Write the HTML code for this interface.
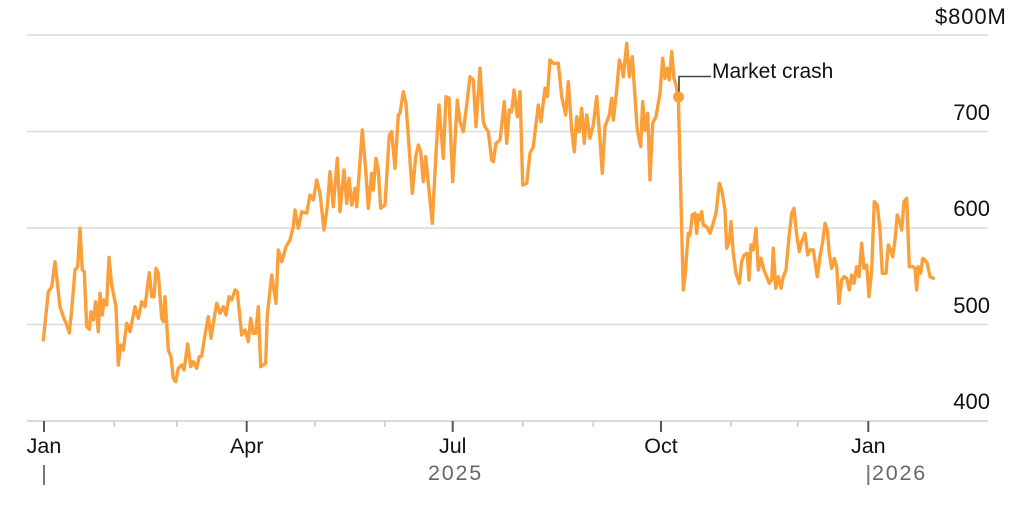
<!DOCTYPE html>
<html>
<head>
<meta charset="utf-8">
<style>
  html,body{margin:0;padding:0;background:#fff;}
  svg{display:block;}
  text{font-family:"Liberation Sans",Arial,sans-serif;}
</style>
</head>
<body>
<svg width="1014" height="509" viewBox="0 0 1014 509" xmlns="http://www.w3.org/2000/svg">
  <!-- gridlines -->
  <g stroke="#dadada" stroke-width="1.6">
    <line x1="27" y1="35" x2="988" y2="35"/>
    <line x1="27" y1="131.5" x2="988" y2="131.5"/>
    <line x1="27" y1="228" x2="988" y2="228"/>
    <line x1="27" y1="324.5" x2="988" y2="324.5"/>
  </g>
  <!-- axis line -->
  <line x1="27" y1="421" x2="988" y2="421" stroke="#dadada" stroke-width="2"/>
  <!-- minor ticks -->
  <g stroke="#c8c8c8" stroke-width="1.5">
    <line x1="114.3" y1="421" x2="114.3" y2="427"/>
    <line x1="176.7" y1="421" x2="176.7" y2="427"/>
    <line x1="315" y1="421" x2="315" y2="427"/>
    <line x1="385" y1="421" x2="385" y2="427"/>
    <line x1="522.7" y1="421" x2="522.7" y2="427"/>
    <line x1="593.3" y1="421" x2="593.3" y2="427"/>
    <line x1="731" y1="421" x2="731" y2="427"/>
    <line x1="797.7" y1="421" x2="797.7" y2="427"/>
  </g>
  <!-- major ticks -->
  <g stroke="#555" stroke-width="2">
    <line x1="44" y1="421" x2="44" y2="432"/>
    <line x1="246.7" y1="421" x2="246.7" y2="432"/>
    <line x1="452.7" y1="421" x2="452.7" y2="432"/>
    <line x1="661" y1="421" x2="661" y2="432"/>
    <line x1="868.3" y1="421" x2="868.3" y2="432"/>
  </g>
  <!-- year ticks -->
  <g stroke="#777" stroke-width="2">
    <line x1="44" y1="465" x2="44" y2="485"/>
    <line x1="868.3" y1="465" x2="868.3" y2="485"/>
  </g>
  <!-- month labels -->
  <g font-size="21.5" fill="#111" text-anchor="middle">
    <text x="44" y="453">Jan</text>
    <text x="246.7" y="453">Apr</text>
    <text x="452.7" y="453">Jul</text>
    <text x="661" y="453">Oct</text>
    <text x="868.3" y="453">Jan</text>
  </g>
  <g font-size="21.5" fill="#666" letter-spacing="1.8">
    <text x="428" y="480">2025</text>
    <text x="872" y="480">2026</text>
  </g>
  <!-- y labels -->
  <g font-size="22" fill="#111" text-anchor="end">
    <text x="990" y="120">700</text>
    <text x="990" y="216">600</text>
    <text x="990" y="313">500</text>
    <text x="990" y="409">400</text>
  </g>
  <text x="935" y="24" font-size="22" fill="#111" letter-spacing="0.9">$800M</text>

  <!-- series -->
  <polyline fill="none" stroke="#fb9f3a" stroke-width="3.4" stroke-linejoin="round" stroke-linecap="round"
    points="43.3,340 48.3,291.7 51.7,287 55,261.7 60,306.7 63.3,316.7 66,323 69.3,333 71.7,310 75,270 77.7,266.7 80,228.3 82.3,270 84.3,271.7 86.7,326.7 89.3,329.3 91,311.7 93.3,320 95.7,301.7 98.3,331.7 100,293.3 102.3,315 104,300 106.7,305 109,257.3 111.7,285 116,306.7 118.3,365 120.7,345 123.3,350 126.7,323.3 130,331.7 135,306.7 138.3,318.3 141.7,301.7 145,306.7 149.3,272.7 151.7,296.7 154,296.7 156,268.3 158.3,273.3 161.7,318.3 163.3,321.7 165,296.7 168.3,350 171,356.7 173.3,378.3 175.7,381.7 178.3,368.3 181.7,365 184,370 187.7,344 190.7,366.7 193.3,361.7 196.7,368.3 199.3,356.7 201.7,356 205,335 208.3,316.7 211,338.3 213.3,323.3 216.7,303.3 220,313.3 223.3,306.7 226,315 229,296.7 231.7,300 235,290 237.3,291.7 241.7,335 245,330 248.3,341.7 250.7,318.3 253.3,333.3 255.7,333.3 258.3,306.7 260.7,366.7 263.3,365 265.7,363.3 267.3,315 271.7,275 276,303.3 278.3,250 281.7,261.7 286,246.7 290,240 293.3,226.7 295,210 298.3,228.3 301.7,211.7 306.7,213.3 310,195 313.3,200 316.7,180 320,193.3 324,230 327.3,206.7 330,171.7 333.3,206.7 337.3,158.3 340,211.7 344,170 346.7,203.3 349,178.3 351.7,205 355,188.3 356.7,206.7 362.3,130 365.7,170 368.3,208.3 371.7,173.3 373.3,190 376,158.3 378.3,170 380.7,208.3 385,205 389.3,135 391.7,131.7 395,168.3 398.3,115 400,113.3 403.3,91.7 406,103.3 412.3,193.3 415.7,156.7 418.3,145 420.7,151.7 423.3,181.7 425.7,156.7 432.3,223.3 436,153.3 439,105 443.3,158.3 446,96.7 449,98.3 452.7,181.7 457.3,100 460,121.7 463.3,131.7 466.7,105 470,76.7 473.3,80 476,126.7 480,68.3 483.3,121.7 485,126.7 488.3,131.7 491.7,160 493.3,161.7 496,143.3 500,140 504.3,101.7 506.7,143.3 509.3,110 511.7,111.7 514,90 517.3,116.7 520,91.7 522.7,185 526.7,183.3 530,153.3 533.3,146.7 538.3,105 541,121.7 545,88.3 547.3,96.7 550,60 553.3,63.3 558.3,63.3 561.7,96.7 565.7,115 568.3,81.7 571.7,130 574.3,151.7 576.7,116.7 579.3,131.7 581.7,108.3 584.3,143.3 586.7,115 590,138.3 593.3,125 596.7,96.7 600,140 602.3,173.3 605,126.7 609.3,115 611.7,98.3 613.3,120 616.7,90 619.3,60 621.7,66.7 623.3,76.7 626.7,43.3 629.3,76.7 632.3,56.7 635,96.7 637.3,130 640.7,146.7 642.7,101.7 645,130 647.7,113.3 650,180 652.7,123.3 656,116.7 660,93.3 662.7,58.3 665,78.3 667.3,68.3 669.3,80 671.7,51.7 674,78.3 676,85 678.3,96.7 683.3,290 685,276.7 688.3,233.3 690,235 692.3,215 695,213.3 696.7,233.3 698.3,215 700,220 701.7,211.7 703.3,225 706.7,226.7 710,233.3 712.7,225 716,213.3 719.3,183.3 721.7,190 725,210 726.7,248.3 729.3,241.7 731,221.7 733.3,253.3 736,273.3 739.3,283.3 741.7,261.7 744,255 747.3,253.3 749,280 751,245 753.3,250 756,228.3 758.3,270 761,258.3 764,270 766.7,276.7 769.3,283.3 771.7,280 773.3,248.3 775.7,288.3 778.3,276.7 781,288.3 783.3,276.7 786,270 789,236.7 791.7,213.3 794,208.3 796.7,235 799.3,251.7 801.7,241.7 805,233.3 807.7,255 810,250 813.3,250 817.3,276.7 820,256.7 822.7,241.7 825,223.3 827.3,230 829.3,253.3 831.7,268.3 834.3,258.3 836.7,266.7 839,303.3 841.7,280 844,276.7 846.7,278.3 849.3,290 851.7,275 854,283.3 856.7,266.7 859,276.7 861.7,243.3 864,268.3 866.7,265 869,296.7 871.7,270 874.3,201.7 877.3,205 880,230 882.3,273.3 886,273.3 888.3,245 890.7,250 892.7,256.7 895,240 897.3,215 899.3,220 901.7,230 904,201.7 906.7,198.3 909.3,266.7 912.7,266.7 915,268.3 916.7,290 918.3,266.7 920.7,273.3 922.7,258.3 925,260 927.3,263.3 930,276.7 933.3,278.3"/>

  <!-- annotation -->
  <polyline fill="none" stroke="#444" stroke-width="1.6" points="679,96 679,76.5 711,76.5"/>
  <circle cx="678.5" cy="97" r="5.5" fill="#fb9f3a"/>
  <text x="712" y="78" font-size="21" fill="#111">Market crash</text>
</svg>
</body>
</html>
